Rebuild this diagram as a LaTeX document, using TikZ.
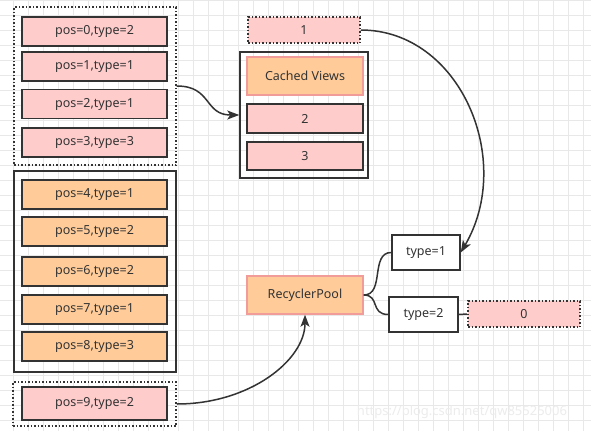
\documentclass[tikz,border=0pt]{standalone}
\usepackage{fontspec}
\setmainfont{Noto Sans}
\usetikzlibrary{arrows.meta}

\definecolor{pinkfill}{HTML}{FFCCCC}
\definecolor{orangefill}{HTML}{FFCC99}
\definecolor{redline}{HTML}{F19C99}
\definecolor{darkline}{HTML}{333333}
\definecolor{gridline}{HTML}{E8E8E8}

\tikzset{
  box/.style={draw=darkline, line width=1.5pt, inner sep=0pt, text=darkline,
    font=\fontsize{12.5}{14}\selectfont},
  pinkbox/.style={box, fill=pinkfill},
  orangebox/.style={box, fill=orangefill},
  poolbox/.style={box, fill=orangefill, draw=redline},
  dotbox/.style={box, fill=pinkfill, dash pattern=on 1.5pt off 2pt},
  frame/.style={draw=darkline, line width=1.5pt, inner sep=0pt},
  dotframe/.style={frame, dash pattern=on 1.5pt off 2pt},
  link/.style={draw=darkline, line width=1.5pt},
  arrowlink/.style={link, -{Stealth[length=12pt, width=9pt, inset=3pt]}}
}

\begin{document}
\begin{tikzpicture}[x=1pt, y=-1pt]

% Page size and background grid
\useasboundingbox (0,0) rectangle (591,431);
\fill[white] (0,0) rectangle (591,431);
\foreach \x in {13.3, 28.3, ..., 591} {
  \draw[gridline, line width=0.6pt] (\x,0) -- (\x,431);
}
\foreach \y in {0, 15, ..., 431} {
  \draw[gridline, line width=0.6pt] (0,\y) -- (591,\y);
}

% Group frames on the left
\node[dotframe, minimum width=162pt, minimum height=158pt] (grpA) at (95,86) {};
\node[frame, minimum width=162pt, minimum height=201pt] (grpB) at (95,271.5) {};
\node[dotframe, minimum width=163pt, minimum height=44pt] (grpC) at (94.5,404) {};

% Item views
\foreach \n/\t/\y in {0/2/31.5, 1/1/66.5, 2/1/104, 3/3/142.5} {
  \node[pinkbox, minimum width=145pt, minimum height=29pt] (pos\n) at (94.5,\y) {pos=\n,type=\t};
}
\foreach \n/\t/\y in {4/1/194.5, 5/2/231.5, 6/2/271.5, 7/1/309.5, 8/3/346.5} {
  \node[orangebox, minimum width=145pt, minimum height=29pt] (pos\n) at (94.5,\y) {pos=\n,type=\t};
}
\node[pinkbox, minimum width=145pt, minimum height=33pt] (pos9) at (94.5,403.5) {pos=9,type=2};

% Cached views
\node[dotbox, minimum width=112pt, minimum height=26pt] (one) at (304,30) {1};
\node[frame, minimum width=128pt, minimum height=126pt] (cache) at (304,115) {};
\node[poolbox, minimum width=116pt, minimum height=38pt] (cached) at (305,76) {Cached Views};
\node[pinkbox, minimum width=116pt, minimum height=29pt] (two) at (305,118.5) {2};
\node[pinkbox, minimum width=116pt, minimum height=28pt] (three) at (305,156) {3};

% Recycler pool
\node[poolbox, minimum width=116pt, minimum height=38pt] (pool) at (305,295) {RecyclerPool};
\node[box, fill=white, minimum width=68pt, minimum height=35pt] (typeA) at (426,252.5) {type=1};
\node[box, fill=white, minimum width=69pt, minimum height=35pt] (typeB) at (423.5,314.5) {type=2};
\node[dotbox, minimum width=112pt, minimum height=26pt] (zero) at (524,314) {0};

% Connectors
\draw[arrowlink] (grpA.east) .. controls (212,86) and (204,115) .. (cache.west);
\draw[arrowlink] (one.east) .. controls (460,30) and (515,160) .. (typeA.east);
\draw[arrowlink] (grpC.east) .. controls (250,404) and (305,360) .. (pool.south);
\draw[link] (pool.east) .. controls (385,295) and (370,252.5) .. (typeA.west);
\draw[link] (pool.east) .. controls (380,295) and (370,314.5) .. (typeB.west);
\draw[link] (typeB.east) -- (zero.west);

% Watermark
\node[text=white!85!gray, font=\fontsize{13}{15}\selectfont] (mark) at (462,412) {https://blog.csdn.net/qw85525006};

\end{tikzpicture}
\end{document}
